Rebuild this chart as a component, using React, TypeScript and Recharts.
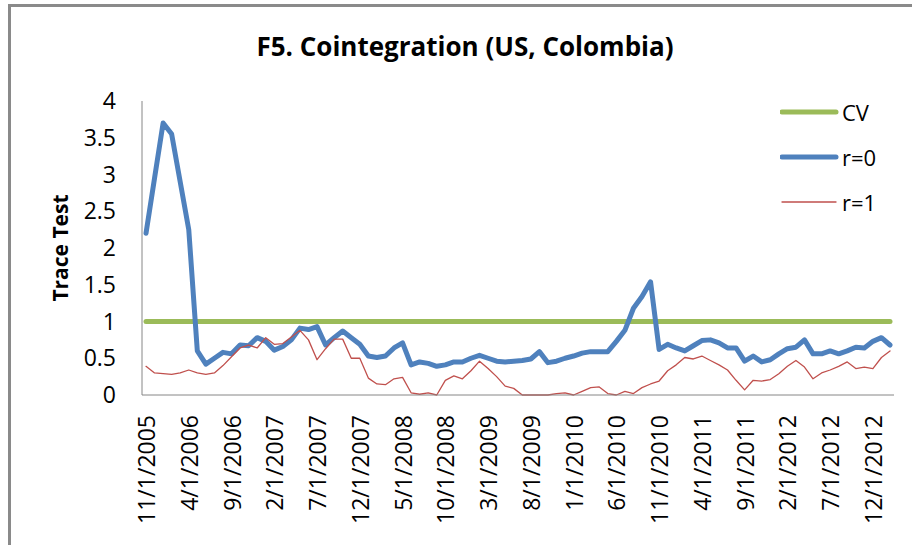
import React from 'react';
import { LineChart, Line, XAxis, YAxis } from 'recharts';

// monthly observations, 11/1/2005 .. 2/1/2013
const dates = [
    '11/1/2005', '12/1/2005',
    '1/1/2006', '2/1/2006', '3/1/2006', '4/1/2006', '5/1/2006', '6/1/2006', '7/1/2006', '8/1/2006', '9/1/2006', '10/1/2006', '11/1/2006', '12/1/2006',
    '1/1/2007', '2/1/2007', '3/1/2007', '4/1/2007', '5/1/2007', '6/1/2007', '7/1/2007', '8/1/2007', '9/1/2007', '10/1/2007', '11/1/2007', '12/1/2007',
    '1/1/2008', '2/1/2008', '3/1/2008', '4/1/2008', '5/1/2008', '6/1/2008', '7/1/2008', '8/1/2008', '9/1/2008', '10/1/2008', '11/1/2008', '12/1/2008',
    '1/1/2009', '2/1/2009', '3/1/2009', '4/1/2009', '5/1/2009', '6/1/2009', '7/1/2009', '8/1/2009', '9/1/2009', '10/1/2009', '11/1/2009', '12/1/2009',
    '1/1/2010', '2/1/2010', '3/1/2010', '4/1/2010', '5/1/2010', '6/1/2010', '7/1/2010', '8/1/2010', '9/1/2010', '10/1/2010', '11/1/2010', '12/1/2010',
    '1/1/2011', '2/1/2011', '3/1/2011', '4/1/2011', '5/1/2011', '6/1/2011', '7/1/2011', '8/1/2011', '9/1/2011', '10/1/2011', '11/1/2011', '12/1/2011',
    '1/1/2012', '2/1/2012', '3/1/2012', '4/1/2012', '5/1/2012', '6/1/2012', '7/1/2012', '8/1/2012', '9/1/2012', '10/1/2012', '11/1/2012', '12/1/2012',
    '1/1/2013', '2/1/2013'
];

// critical value
const CV = 1;

const r0 = [
    2.2, 2.95, 3.7, 3.55, 2.9, 2.25, 0.6, 0.42, 0.5, 0.58,
    0.56, 0.68, 0.67, 0.78, 0.73, 0.61, 0.66, 0.75, 0.91, 0.89,
    0.93, 0.68, 0.78, 0.87, 0.78, 0.69, 0.53, 0.51, 0.53, 0.64,
    0.71, 0.41, 0.45, 0.43, 0.39, 0.41, 0.45, 0.45, 0.5, 0.54,
    0.5, 0.46, 0.45, 0.46, 0.47, 0.49, 0.59, 0.44, 0.46, 0.5,
    0.53, 0.57, 0.59, 0.59, 0.59, 0.73, 0.88, 1.18, 1.34, 1.54,
    0.62, 0.69, 0.64, 0.6, 0.67, 0.74, 0.75, 0.71, 0.64, 0.64,
    0.46, 0.53, 0.45, 0.48, 0.56, 0.63, 0.65, 0.75, 0.56, 0.56,
    0.6, 0.56, 0.6, 0.65, 0.64, 0.73, 0.78, 0.68
];

const r1 = [
    0.39, 0.3, 0.29, 0.28, 0.3, 0.34, 0.3, 0.28, 0.3, 0.4,
    0.52, 0.64, 0.68, 0.64, 0.78, 0.69, 0.7, 0.79, 0.88, 0.75,
    0.48, 0.63, 0.76, 0.76, 0.5, 0.5, 0.23, 0.15, 0.14, 0.22,
    0.24, 0.03, 0.01, 0.03, 0.0, 0.2, 0.26, 0.22, 0.33, 0.46,
    0.36, 0.25, 0.12, 0.09, 0.0, 0.0, 0.0, 0.0, 0.02, 0.03,
    0.0, 0.05, 0.1, 0.11, 0.02, 0.0, 0.05, 0.02, 0.1, 0.15,
    0.19, 0.33, 0.41, 0.51, 0.49, 0.53, 0.47, 0.41, 0.34, 0.2,
    0.07, 0.2, 0.19, 0.21, 0.29, 0.39, 0.47, 0.38, 0.22, 0.3,
    0.34, 0.39, 0.45, 0.36, 0.38, 0.36, 0.51, 0.6
];

const yTicks = [0, 0.5, 1, 1.5, 2, 2.5, 3, 3.5, 4];

const FONT = '"Open Sans", sans-serif';

const data = dates.map((date, i) => ({
    date,
    CV,
    'r=0': r0[i],
    'r=1': r1[i]
}));

const series = [
    { key: 'CV', color: '#9BBB59', width: 5 },
    { key: 'r=0', color: '#4F81BD', width: 5 },
    { key: 'r=1', color: '#C0504D', width: 1.3 }
];

function DateTick(props: any) {
    const { x, y, payload } = props;
    const ty = y + 12;
    return (
        <text
            x={x}
            y={ty}
            transform={`rotate(-90 ${x} ${ty})`}
            textAnchor="end"
            dominantBaseline="central"
            fontFamily={FONT}
            fontSize={23}
            fill="#000"
        >
            {payload.value}
        </text>
    );
}

function LegendBox() {
    return (
        <div style={{ position: 'absolute', left: 780, top: 89, fontFamily: FONT, fontSize: 22, color: '#000' }}>
            {series.map(s => (
                <div key={s.key} style={{ display: 'flex', alignItems: 'center', height: 45 }}>
                    <svg width={60} height={10}>
                        <line x1={2} y1={5} x2={56} y2={5} stroke={s.color} strokeWidth={s.width} strokeLinecap="round" />
                    </svg>
                    <span style={{ marginLeft: 2 }}>{s.key}</span>
                </div>
            ))}
        </div>
    );
}

export default function App() {
    return (
        <div style={{ position: 'absolute', left: 0, top: 0, width: 912, height: 545, background: '#fff', overflow: 'hidden' }}>
            <div
                style={{
                    position: 'absolute',
                    left: 8,
                    top: 4,
                    width: 920,
                    height: 538,
                    borderLeft: '3px solid #8a8a8a',
                    borderTop: '3px solid #8a8a8a',
                    borderBottom: '1px solid #d0d0d0'
                }}
            />
            <div
                style={{
                    position: 'absolute',
                    left: 0,
                    width: 930,
                    top: 28,
                    textAlign: 'center',
                    fontFamily: FONT,
                    fontWeight: 700,
                    fontSize: 26,
                    color: '#000'
                }}
            >
                F5. Cointegration (US, Colombia)
            </div>
            <div style={{ position: 'absolute', left: 0, top: 0 }}>
                <LineChart width={912} height={545} data={data} margin={{ top: 101, right: 18, left: 0, bottom: 0 }}>
                    <XAxis
                        dataKey="date"
                        interval={4}
                        height={150}
                        tickLine={false}
                        stroke="#868686"
                        tick={<DateTick />}
                        padding={{ left: 4, right: 4 }}
                    />
                    <YAxis
                        width={142}
                        domain={[0, 4]}
                        ticks={yTicks}
                        tickLine={false}
                        tickMargin={20}
                        stroke="#868686"
                        tick={{ fill: '#000', fontSize: 23, fontFamily: FONT }}
                        label={{
                            value: 'Trace Test',
                            angle: -90,
                            position: 'center',
                            dx: -10,
                            style: { fontFamily: FONT, fontWeight: 700, fontSize: 21, fill: '#000' }
                        }}
                    />
                    {series.map(s => (
                        <Line
                            key={s.key}
                            type="linear"
                            dataKey={s.key}
                            stroke={s.color}
                            strokeWidth={s.width}
                            strokeLinejoin="round"
                            strokeLinecap="round"
                            dot={false}
                            activeDot={false}
                            isAnimationActive={false}
                        />
                    ))}
                </LineChart>
            </div>
            <LegendBox />
        </div>
    );
}
